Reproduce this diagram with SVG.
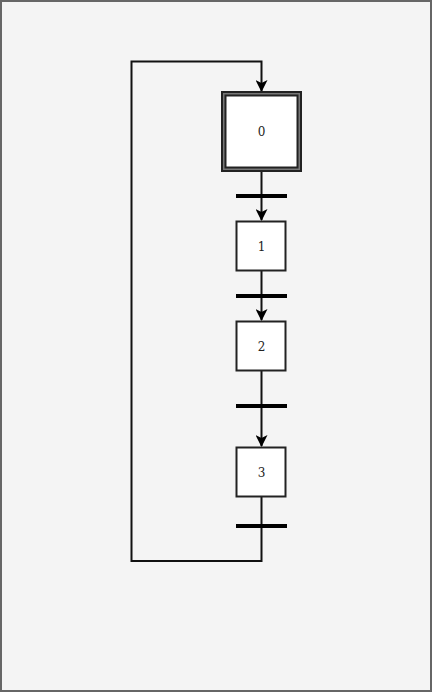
<svg xmlns="http://www.w3.org/2000/svg" width="432" height="692" viewBox="0 0 432 692">
<style>
.step rect{fill:#fff;stroke:#222;stroke-width:2}
.lbl{font-family:"DejaVu Serif",serif;font-size:12px;text-anchor:middle;fill:#222}
.ln{fill:none;stroke:#111;stroke-width:2}
.tr{stroke:#000;stroke-width:4}
</style>
<defs>
<marker id="ah" markerWidth="12" markerHeight="12" viewBox="0 0 12 12" refX="11" refY="6" orient="auto" markerUnits="userSpaceOnUse">
<path d="M0,0 L12,6 L0,12 L3,6 Z" fill="#000"/>
</marker>
</defs>
<rect x="1" y="1" width="430" height="690" fill="#f4f4f4" stroke="#666" stroke-width="2"/>
<g id="connectors">
<path class="ln" d="M261.5,171 V220" marker-end="url(#ah)"/>
<path class="ln" d="M261.5,271 V320" marker-end="url(#ah)"/>
<path class="ln" d="M261.5,371 V446" marker-end="url(#ah)"/>
<path class="ln" d="M261.5,497 V561 H131.5 V61.5 H261.5 V91" marker-end="url(#ah)"/>
<line class="tr" x1="236" y1="196" x2="287" y2="196"/>
<line class="tr" x1="236" y1="296" x2="287" y2="296"/>
<line class="tr" x1="236" y1="406" x2="287" y2="406"/>
<line class="tr" x1="236" y1="526" x2="287" y2="526"/>
</g>
<g id="step0">
<rect x="222" y="92" width="79" height="79" fill="#777" stroke="#222" stroke-width="2"/>
<rect x="225.5" y="95.5" width="72" height="72" fill="#fff" stroke="#222" stroke-width="2"/>
<text class="lbl" x="261.5" y="136">0</text>
</g>
<g id="step1" class="step">
<rect x="236.5" y="221.5" width="49" height="49"/>
<text class="lbl" x="261.5" y="251">1</text>
</g>
<g id="step2" class="step">
<rect x="236.5" y="321.5" width="49" height="49"/>
<text class="lbl" x="261.5" y="351">2</text>
</g>
<g id="step3" class="step">
<rect x="236.5" y="447.5" width="49" height="49"/>
<text class="lbl" x="261.5" y="477">3</text>
</g>
</svg>
